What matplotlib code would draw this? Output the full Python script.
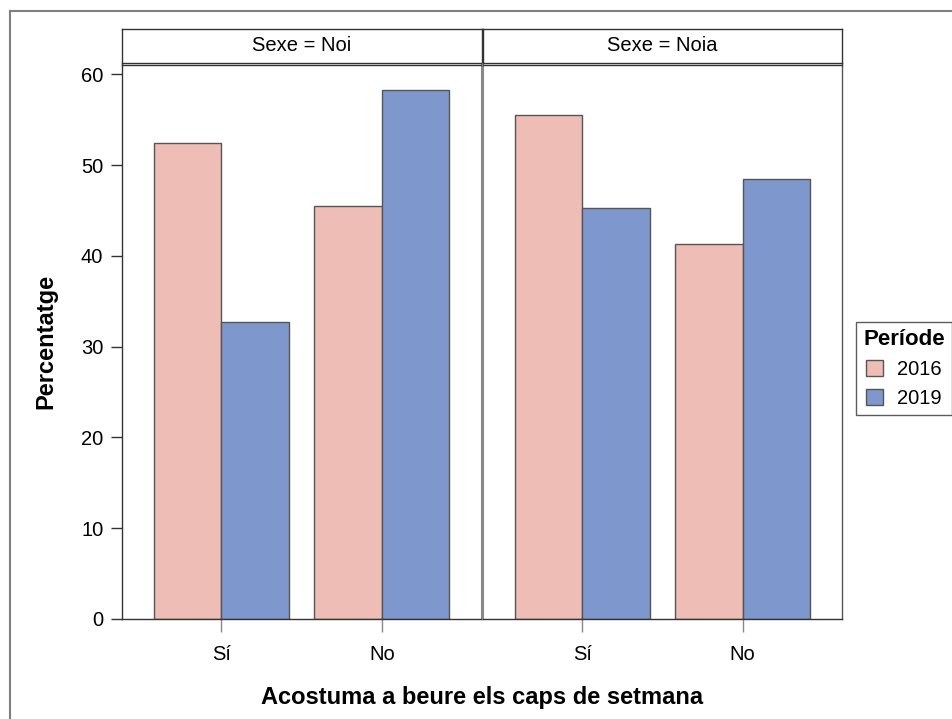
import matplotlib
matplotlib.use("Agg")
import matplotlib.pyplot as plt
from matplotlib.lines import Line2D
from matplotlib.patches import Patch
import numpy as np

plt.rcParams['font.family'] = ['Liberation Sans', 'DejaVu Sans']

panels = ["Noi", "Noia"]
categories = ["Sí", "No"]
periods = ["2016", "2019"]
values = {
    "Noi":  {"2016": [52.5, 45.5], "2019": [32.7, 58.3]},
    "Noia": {"2016": [55.5, 41.3], "2019": [45.3, 48.5]},
}
colors = {"2016": "#EEBDB6", "2019": "#7E97CD"}
yticks = [0, 10, 20, 30, 40, 50, 60]

W, H = 952, 719
fig = plt.figure(figsize=(W / 100, H / 100), dpi=100)

def fx(px):
    return px / W

def fy(py):
    return 1 - py / H

ax_top, ax_bot = 64.5, 619.0
panel_x = [(121.7, 481.5), (482.5, 842.3)]
strip_top, strip_bot = 28.5, 63.0

x = np.arange(len(categories))
bw = 0.42
axes = []
for i, (p, (x0, x1)) in enumerate(zip(panels, panel_x)):
    ax = fig.add_axes([fx(x0), fy(ax_bot), fx(x1 - x0), (ax_bot - ax_top) / H])
    axes.append(ax)
    for j, per in enumerate(periods):
        off = (j - 0.5) * bw
        ax.bar(x + off, values[p][per], width=bw, color=colors[per],
               edgecolor="#555555", linewidth=1.0, zorder=2)
    ax.set_xlim(-0.62, 1.62)
    ax.set_ylim(0, 61.1)
    ax.set_xticks(x)
    ax.set_xticklabels(categories, fontsize=14.5)
    ax.tick_params(axis='x', length=9.4, width=1, color='#888888', pad=9)
    ax.set_yticks(yticks)
    if i == 0:
        ax.set_yticklabels([str(v) for v in yticks], fontsize=14.5)
        ax.tick_params(axis='y', length=7.7, width=1, color='#333333', pad=5.5)
    else:
        ax.tick_params(axis='y', left=False, labelleft=False)
    for s in ax.spines.values():
        s.set_linewidth(1.0)
        s.set_color('#333333')
    if i == 0:
        ax.spines['right'].set_color('#888888')
        ax.spines['right'].set_linewidth(1.5)
    else:
        ax.spines['left'].set_color('#888888')
        ax.spines['left'].set_linewidth(1.5)
        ax.spines['right'].set_color('#555555')

    sax = fig.add_axes([fx(x0), fy(strip_bot), fx(x1 - x0), (strip_bot - strip_top) / H])
    sax.set_xticks([])
    sax.set_yticks([])
    for s in sax.spines.values():
        s.set_color('#333333')
        s.set_linewidth(1.0)
    sax.text(0.5, 0.5, f"Sexe = {p}", ha='center', va='center', fontsize=14.5,
             transform=sax.transAxes)

fig.text(fx((121.7 + 842.3) / 2), fy(697.5), "Acostuma a beure els caps de setmana",
         ha='center', va='center', fontsize=17, fontweight='bold')
fig.text(fx(46), fy((ax_top + ax_bot) / 2), "Percentatge", rotation=90,
         ha='center', va='center', fontsize=17, fontweight='bold')

handles = [Patch(facecolor=colors[p], edgecolor='#555555', linewidth=1.0, label=p)
           for p in periods]
leg = fig.legend(handles=handles, title="Període", loc='upper left',
                 bbox_to_anchor=(fx(856), fy(322)), fontsize=14.5,
                 title_fontproperties={'weight': 'bold', 'size': 16},
                 frameon=True, fancybox=False, edgecolor='#333333',
                 handlelength=0.8, handleheight=0.8, handletextpad=0.7,
                 borderpad=0.35, labelspacing=0.5, borderaxespad=0)
leg.get_frame().set_linewidth(1.0)

# outer border (top and left)
fig.add_artist(Line2D([fx(10), fx(952)], [fy(10.5), fy(10.5)], color='#7f7f7f', lw=1.5,
                      transform=fig.transFigure))
fig.add_artist(Line2D([fx(10), fx(10)], [fy(10.5), fy(719)], color='#7f7f7f', lw=1.5,
                      transform=fig.transFigure))

fig.savefig("out.png", dpi=100)
